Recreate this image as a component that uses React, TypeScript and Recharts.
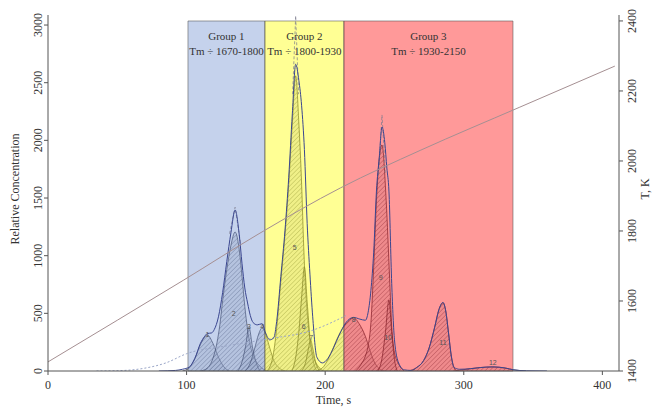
import { ComposedChart, Area, Line, XAxis, YAxis, ReferenceArea, ReferenceDot } from "recharts"

const FONT = "'Liberation Serif', 'DejaVu Serif', serif"

const TIME_TICKS = [0, 100, 200, 300, 400]
const CONC_TICKS = [0, 500, 1000, 1500, 2000, 2500, 3000]
const TEMP_TICKS = [1400, 1600, 1800, 2000, 2200, 2400]

// heating ramp, read on the right axis
const TEMP_TIME = [0, 50, 98, 153, 211, 269, 340, 409]
const TEMP_K = [1426, 1545, 1660, 1794, 1923, 2031, 2153, 2271]

const GROUP_NAMES = ["Group 1", "Group 2", "Group 3"]
const GROUP_TM = ["1670-1800", "1800-1930", "1930-2150"]
const GROUP_START = [101, 156.5, 213.5]
const GROUP_END = [156.5, 213.5, 335.5]
const GROUP_TOP = 3035

// fitted components [time, concentration]
const PEAK_1 = [[97, 0], [102, 30], [106, 110], [110, 230], [115, 312], [119, 240], [123, 120], [127, 35], [131, 0]]
const PEAK_2 = [[110, 0], [115, 25], [119, 110], [122, 250], [124, 400], [126, 610], [129, 880], [132, 1090], [135, 1205], [138, 1050], [140, 820], [142, 560], [144, 360], [146, 220], [149, 110], [153, 40], [158, 0]]
const PEAK_3 = [[137, 0], [140, 80], [142.5, 210], [145, 380], [147.5, 210], [150, 80], [153, 0]]
const PEAK_4 = [[142, 0], [146, 70], [149, 190], [152, 320], [154.5, 375], [157, 320], [160, 200], [163, 90], [167, 25], [171, 0]]
const PEAK_5 = [[158, 0], [162, 110], [165, 370], [168, 780], [171, 1180], [173.7, 1620], [176.3, 2150], [178.7, 2560], [181, 2150], [183, 1620], [184.5, 1080], [186, 680], [188, 370], [191, 150], [195, 40], [199, 0]]
const PEAK_6 = [[176, 0], [179, 140], [181, 340], [183, 640], [185, 900], [187, 600], [189, 290], [191, 110], [194, 0]]
const PEAK_7 = [[183, 0], [186, 80], [188, 200], [189.5, 270], [191, 200], [193, 80], [196, 0]]
const PEAK_8 = [[194, 0], [199, 40], [204, 150], [209, 290], [215, 410], [220.5, 460], [225, 400], [229, 300], [232, 190], [235, 90], [239, 20], [243, 0]]
const PEAK_9 = [[222, 0], [226, 60], [229, 130], [231, 220], [233, 420], [235, 900], [237, 1480], [241, 1960], [244, 1480], [246.5, 800], [248, 390], [250, 160], [253, 60], [257, 0]]
const PEAK_10 = [[238, 0], [241, 110], [243.5, 340], [246, 615], [248, 340], [250, 100], [252, 0]]
const PEAK_11 = [[260, 0], [266, 30], [271, 90], [275, 200], [279, 380], [282, 530], [285, 590], [287, 520], [289, 330], [291, 130], [293, 30], [295, 0]]
const PEAK_12 = [[293, 0], [300, 12], [310, 28], [321, 35], [330, 25], [336, 10], [345, 0]]

const PEAKS = [PEAK_1, PEAK_2, PEAK_3, PEAK_4, PEAK_5, PEAK_6, PEAK_7, PEAK_8, PEAK_9, PEAK_10, PEAK_11, PEAK_12]

// total fit envelope
const ENVELOPE = [
    [80, 0], [92, 5], [97, 15], [102, 35], [106, 110], [110, 240], [113, 300], [115, 325], [118, 330], [120, 360],
    [123, 470], [126, 680], [129, 950], [132, 1200], [135, 1396], [138, 1180], [140, 930], [142, 720], [144, 590],
    [146, 480], [148, 420], [151, 400], [154.5, 410], [157, 330], [160, 270], [163, 290], [165, 430], [168, 820],
    [171, 1220], [173.7, 1680], [176.3, 2230], [178.7, 2660], [181, 2520], [183, 2300], [185, 1920], [187, 1280],
    [189, 840], [191, 470], [194, 120], [198, 70], [202, 110], [206, 200], [210, 310], [215, 420], [220.5, 465],
    [225, 450], [229, 440], [231, 510], [233, 700], [235, 1030], [237, 1560], [239, 1850], [241, 2116], [243, 1980],
    [244.5, 1760], [246, 1560], [248, 760], [250, 270], [253, 70], [257, 10], [262, 5], [266, 30], [271, 90],
    [275, 200], [279, 380], [282, 530], [285, 595], [287, 520], [289, 330], [291, 130], [293, 30], [297, 15],
    [305, 20], [312, 30], [321, 36], [330, 26], [336, 10], [345, 2], [360, 0],
]

// measured signal tips poking above the fit
const SPIKE_2 = [[131, 1190], [135, 1420], [139, 1100]]
const SPIKE_5 = [[176.5, 2400], [178.7, 3080], [180.8, 2400]]
const SPIKE_9 = [[238.5, 1700], [241, 2220], [243.5, 1700]]

const DOTTED = [[35, 0], [55, 5], [70, 25], [85, 70], [100, 150], [130, 220], [160, 280], [190, 350], [215, 480]]

const PEAK_NAMES = ["1", "2", "3", "4", "5", "6", "7", "8", "9", "10", "11", "12"]
const PEAK_LABEL_T = [115, 134, 145, 154.5, 178, 184.5, 190, 220.5, 240, 245.5, 285, 321]
const PEAK_LABEL_V = [320, 500, 385, 385, 1075, 390, 290, 450, 810, 290, 250, 75]

const toRows = (pts: number[][]) => pts.map(([t, v]) => ({ t, v }))
const tempRows = TEMP_TIME.map((t, i) => ({ t, T: TEMP_K[i] }))

const OVERLAY = ["#6f8fd0", "#ffff00", "#ff0000"]
const OVERLAY_OPACITY = [0.4, 0.42, 0.4]

function RotTick(props: any) {
    const { x, y, payload, shift } = props
    const bx = x + shift
    return (
        <text x={bx} y={y} transform={`rotate(-90, ${bx}, ${y})`} textAnchor="middle" fontSize={12} fontFamily={FONT} fill="#333">
            {payload.value}
        </text>
    )
}

const axisTitle = (text: string, dx: number) => (props: any) => {
    const { x, y, height } = props.viewBox
    const cx = x + dx
    const cy = y + height / 2 - 4
    return (
        <text x={cx} y={cy} transform={`rotate(-90, ${cx}, ${cy})`} textAnchor="middle" fontSize={12} fontFamily={FONT} fill="#333">
            {text}
        </text>
    )
}

const groupLabel = (name: string, tm: string) => (props: any) => {
    const { x, y, width } = props.viewBox
    const cx = x + width / 2
    return (
        <g>
            <text x={cx} y={y + 19} textAnchor="middle" fontSize={11} fontFamily={FONT} fill="#333">{name}</text>
            <text x={cx} y={y + 34} textAnchor="middle" fontSize={11} fontFamily={FONT} fill="#333">{`Tm ÷ ${tm}`}</text>
        </g>
    )
}

export default function App() {
    return (
        <div style={{ position: "absolute", left: 0, top: 0, background: "#fff" }}>
            <ComposedChart width={652} height={408} margin={{ top: 15, right: 8, bottom: 6, left: 10 }}>
                <defs>
                    <pattern id="hatch" width="3.2" height="3.2" patternUnits="userSpaceOnUse" patternTransform="rotate(45)">
                        <rect width="3.2" height="3.2" fill="#b4b6c2" fillOpacity={0.35} />
                        <line x1="0" y1="0" x2="0" y2="3.2" stroke="#5c5e6c" strokeWidth="0.7" />
                    </pattern>
                </defs>
                <XAxis
                    type="number"
                    dataKey="t"
                    domain={[0, 412]}
                    ticks={TIME_TICKS}
                    allowDataOverflow
                    height={31}
                    tickSize={4}
                    tickMargin={5}
                    stroke="#555"
                    tick={{ fontSize: 12, fontFamily: FONT, fill: "#333" }}
                    label={{ value: "Time, s", position: "insideBottom", offset: -2, fontSize: 12, fontFamily: FONT, fill: "#333" }}
                />
                <YAxis
                    yAxisId="left"
                    type="number"
                    domain={[0, 3087]}
                    ticks={CONC_TICKS}
                    allowDataOverflow
                    width={38}
                    tickSize={4}
                    tickMargin={2}
                    stroke="#555"
                    tick={(p: any) => <RotTick {...p} shift={0} />}
                    label={{ content: axisTitle("Relative Concentration", 9) }}
                />
                <YAxis
                    yAxisId="right"
                    orientation="right"
                    type="number"
                    domain={[1400, 2417]}
                    ticks={TEMP_TICKS}
                    allowDataOverflow
                    width={25}
                    tickSize={4}
                    tickMargin={2}
                    stroke="#555"
                    tick={(p: any) => <RotTick {...p} shift={11} />}
                    label={{ content: axisTitle("T, K", 30) }}
                />

                <Line data={toRows(DOTTED)} dataKey="v" yAxisId="left" type="monotone" stroke="#9aa6c8" strokeWidth={1} strokeDasharray="2 2" dot={false} isAnimationActive={false} />

                {PEAKS.map((pk, i) => (
                    <Area
                        key={`peak-${i}`}
                        data={toRows(pk)}
                        dataKey="v"
                        yAxisId="left"
                        type="monotone"
                        stroke="#2c2c3c"
                        strokeWidth={0.7}
                        fill="url(#hatch)"
                        fillOpacity={1}
                        isAnimationActive={false}
                    />
                ))}

                {[SPIKE_2, SPIKE_5, SPIKE_9].map((sp, i) => (
                    <Line key={`spike-${i}`} data={toRows(sp)} dataKey="v" yAxisId="left" type="linear" stroke="#7a7a8c" strokeWidth={0.7} strokeDasharray="3 2" dot={false} isAnimationActive={false} />
                ))}

                <Line data={toRows(ENVELOPE)} dataKey="v" yAxisId="left" type="monotone" stroke="#3a4690" strokeWidth={1} dot={false} isAnimationActive={false} />
                <Line data={tempRows} dataKey="T" yAxisId="right" type="monotone" stroke="#a58f92" strokeWidth={1} dot={false} isAnimationActive={false} />

                {PEAK_NAMES.map((n, i) => (
                    <ReferenceDot
                        key={`lbl-${n}`}
                        x={PEAK_LABEL_T[i]}
                        y={PEAK_LABEL_V[i]}
                        yAxisId="left"
                        r={0}
                        fill="none"
                        stroke="none"
                        label={{ value: n, position: "center", fontSize: 7, fill: "#555", fontFamily: "Arial, sans-serif" }}
                    />
                ))}

                {GROUP_NAMES.map((g, i) => (
                    <ReferenceArea
                        key={g}
                        x1={GROUP_START[i]}
                        x2={GROUP_END[i]}
                        y1={0}
                        y2={GROUP_TOP}
                        yAxisId="left"
                        fill={OVERLAY[i]}
                        fillOpacity={OVERLAY_OPACITY[i]}
                        stroke="#555"
                        strokeOpacity={0.7}
                        strokeWidth={0.8}
                        label={{ content: groupLabel(g, GROUP_TM[i]) }}
                    />
                ))}
            </ComposedChart>
        </div>
    )
}
